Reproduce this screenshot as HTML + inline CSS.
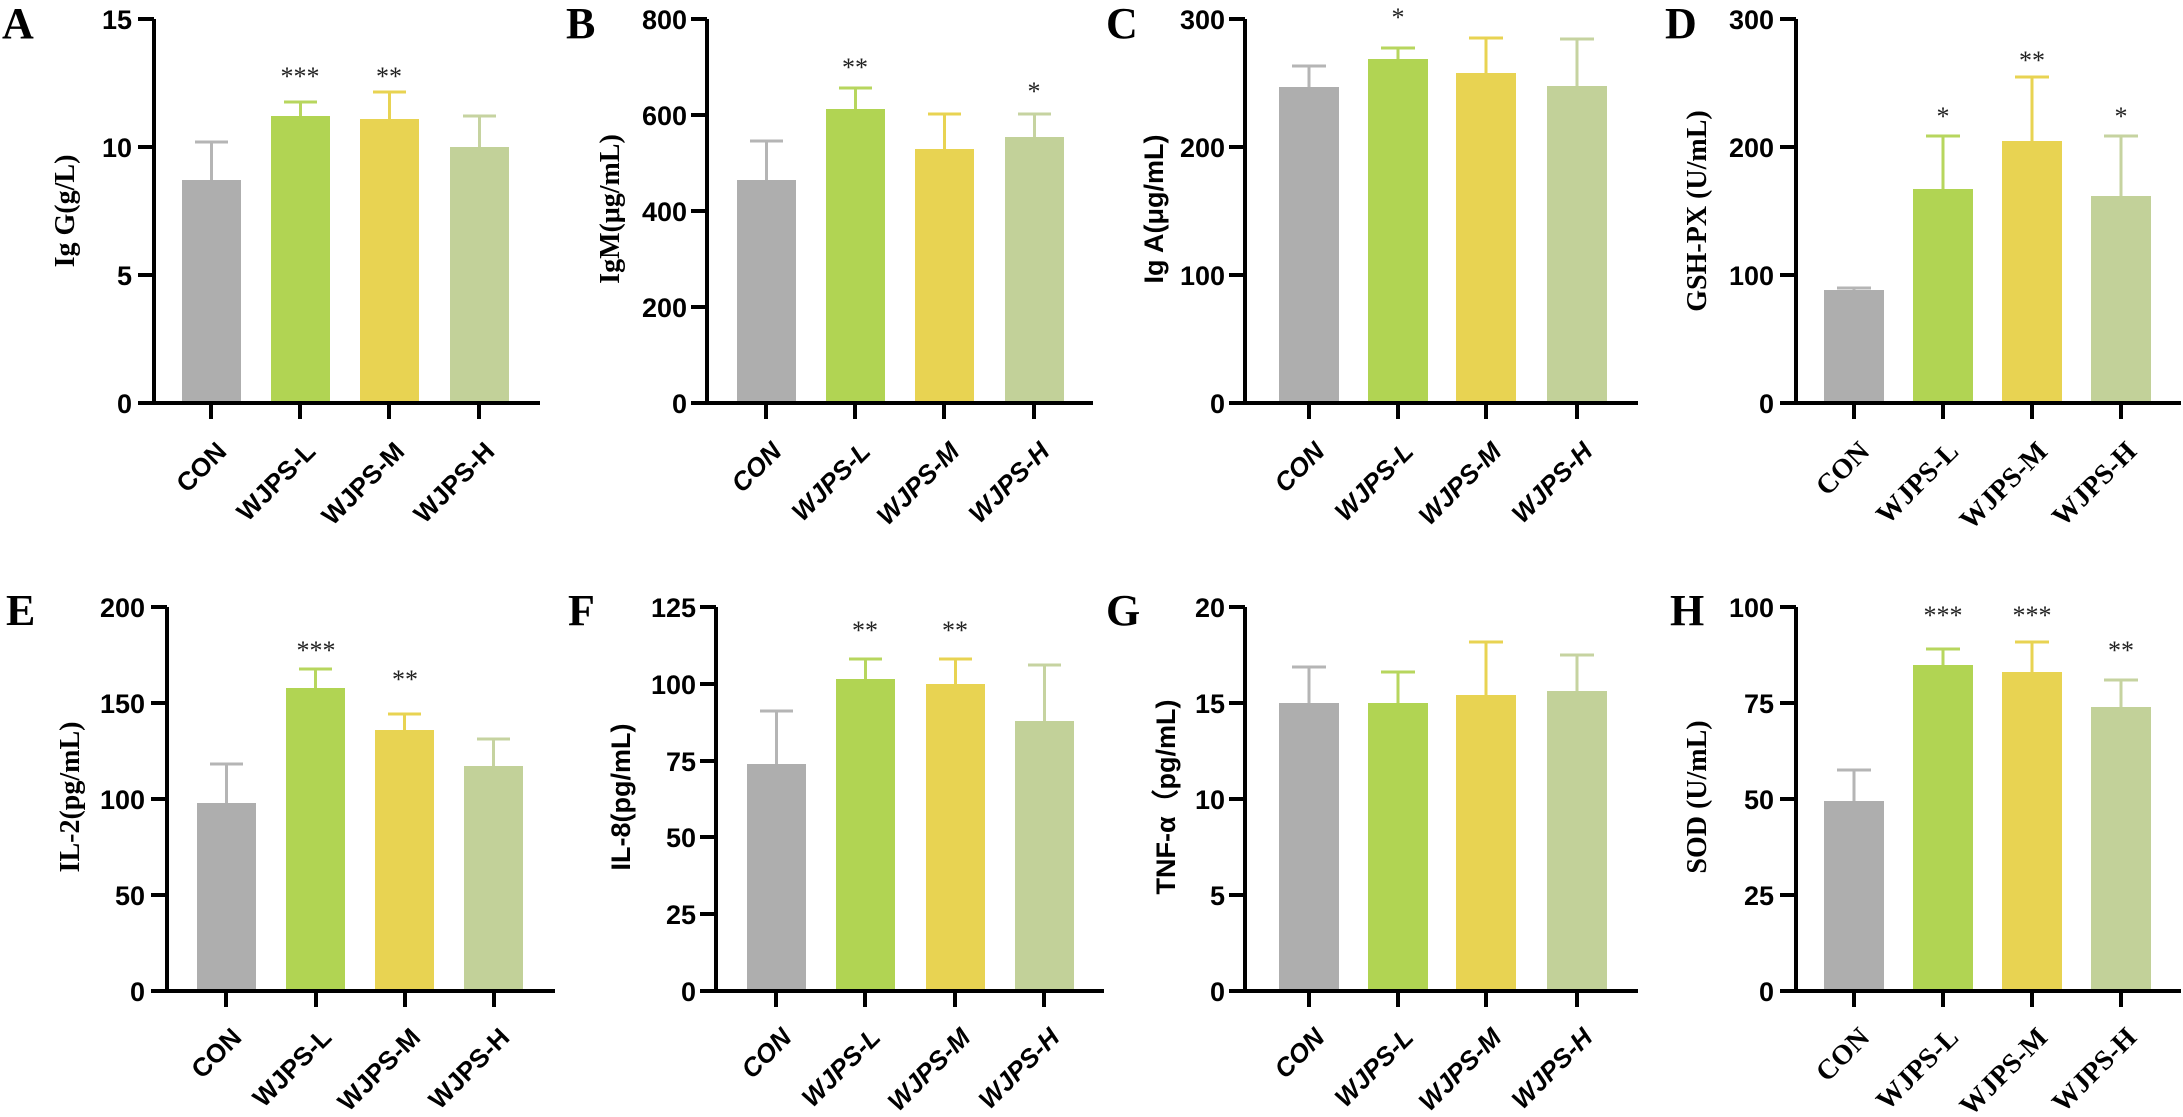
<!DOCTYPE html>
<html><head><meta charset="utf-8"><style>
html,body{margin:0;padding:0;background:#fff;}
svg{display:block;}
.t{font-family:"Liberation Sans",sans-serif;font-weight:bold;font-size:27px;fill:#000;}
.tn{font-family:"Liberation Sans",sans-serif;font-weight:bold;font-size:27px;fill:#000;}
.ts{font-family:"Liberation Serif",serif;font-weight:bold;font-size:28px;fill:#000;}
.xl{font-family:"Liberation Sans",sans-serif;font-weight:bold;font-size:26px;fill:#000;}
.xi{font-family:"Liberation Sans",sans-serif;font-weight:bold;font-style:italic;font-size:26px;fill:#000;}
.xs{font-family:"Liberation Serif",serif;font-weight:bold;font-size:28px;fill:#000;}
.st{font-family:"Liberation Serif",serif;font-size:26px;fill:#222;}
.L{font-family:"Liberation Serif",serif;font-weight:bold;font-size:44px;fill:#000;}
.ax{stroke:#000;stroke-width:4;fill:none;}
</style></head><body>
<svg width="2183" height="1117" viewBox="0 0 2183 1117" xmlns="http://www.w3.org/2000/svg">
<rect width="2183" height="1117" fill="#fff"/>

<text class="L" x="2" y="38">A</text>
<text class="L" x="566" y="38">B</text>
<text class="L" x="1106" y="38">C</text>
<text class="L" x="1665" y="38">D</text>
<text class="L" x="6" y="625">E</text>
<text class="L" x="568" y="625">F</text>
<text class="L" x="1106" y="625">G</text>
<text class="L" x="1670" y="625">H</text>

<!-- ===== A ===== -->
<g transform="translate(154,403)">
<rect x="28" y="-223" width="59" height="223" fill="#aeaeae"/>
<rect x="117" y="-287" width="59" height="287" fill="#b1d453"/>
<rect x="206" y="-284" width="59" height="284" fill="#e8d352"/>
<rect x="296" y="-256" width="59" height="256" fill="#c2d199"/>
<g stroke-width="3">
<path d="M57.5,-223V-261M41,-261H74" stroke="#b5b5b5"/>
<path d="M146.5,-287V-301M130,-301H163" stroke="#b7d65e"/>
<path d="M235.5,-284V-311M219,-311H252" stroke="#e8d352"/>
<path d="M325.5,-256V-287M309,-287H342" stroke="#c6d3a0"/>
</g>
<path class="ax" d="M0,-384V0M-16,0H386M-16,-384H0M-16,-256H0M-16,-128H0M57,0V16M146,0V16M235,0V16M325,0V16"/>
<g class="t" text-anchor="end"><text x="-22" y="10">0</text><text x="-22" y="-118">5</text><text x="-22" y="-246">10</text><text x="-22" y="-374">15</text></g>
<g class="st" text-anchor="middle"><text x="146" y="-318">***</text><text x="235" y="-318">**</text></g>
<text class="ts" transform="translate(-80,-192) rotate(-90)" text-anchor="middle">Ig G(g/L)</text>
<g class="xl" text-anchor="end">
<text transform="translate(74,50) rotate(-45)">CON</text>
<text transform="translate(163,50) rotate(-45)">WJPS-L</text>
<text transform="translate(252,50) rotate(-45)">WJPS-M</text>
<text transform="translate(342,50) rotate(-45)">WJPS-H</text>
</g>
</g>

<!-- ===== B ===== -->
<g transform="translate(707,403)">
<rect x="30" y="-223" width="59" height="223" fill="#aeaeae"/>
<rect x="119" y="-294" width="59" height="294" fill="#b1d453"/>
<rect x="208" y="-254" width="59" height="254" fill="#e8d352"/>
<rect x="298" y="-266" width="59" height="266" fill="#c2d199"/>
<g stroke-width="3">
<path d="M59.5,-223V-262M43,-262H76" stroke="#b5b5b5"/>
<path d="M148.5,-294V-315M132,-315H165" stroke="#b7d65e"/>
<path d="M237.5,-254V-289M221,-289H254" stroke="#e8d352"/>
<path d="M327.5,-266V-289M311,-289H344" stroke="#c6d3a0"/>
</g>
<path class="ax" d="M0,-384V0M-16,0H386M-16,-384H0M-16,-288H0M-16,-192H0M-16,-96H0M59,0V16M148,0V16M237,0V16M327,0V16"/>
<g class="t" text-anchor="end"><text x="-20" y="10">0</text><text x="-20" y="-86">200</text><text x="-20" y="-182">400</text><text x="-20" y="-278">600</text><text x="-20" y="-374">800</text></g>
<g class="st" text-anchor="middle"><text x="148" y="-327">**</text><text x="327" y="-303">*</text></g>
<text class="ts" transform="translate(-88,-194) rotate(-90)" text-anchor="middle">IgM(μg/mL)</text>
<g class="xi" text-anchor="end">
<text transform="translate(76,50) rotate(-45)">CON</text>
<text transform="translate(165,50) rotate(-45)">WJPS-L</text>
<text transform="translate(254,50) rotate(-45)">WJPS-M</text>
<text transform="translate(344,50) rotate(-45)">WJPS-H</text>
</g>
</g>

<!-- ===== C ===== -->
<g transform="translate(1245,403)">
<rect x="34" y="-316" width="60" height="316" fill="#aeaeae"/>
<rect x="123" y="-344" width="60" height="344" fill="#b1d453"/>
<rect x="211" y="-330" width="60" height="330" fill="#e8d352"/>
<rect x="302" y="-317" width="60" height="317" fill="#c2d199"/>
<g stroke-width="3">
<path d="M64,-316V-337M47,-337H81" stroke="#b5b5b5"/>
<path d="M153,-344V-355M136,-355H170" stroke="#b7d65e"/>
<path d="M241,-330V-365M224,-365H258" stroke="#e8d352"/>
<path d="M332,-317V-364M315,-364H349" stroke="#c6d3a0"/>
</g>
<path class="ax" d="M0,-384V0M-16,0H393M-16,-384H0M-16,-256H0M-16,-128H0M64,0V16M153,0V16M241,0V16M332,0V16"/>
<g class="t" text-anchor="end"><text x="-20" y="10">0</text><text x="-20" y="-118">100</text><text x="-20" y="-246">200</text><text x="-20" y="-374">300</text></g>
<g class="st" text-anchor="middle"><text x="153" y="-377">*</text></g>
<text class="tn" transform="translate(-82,-194) rotate(-90)" text-anchor="middle">Ig A(μg/mL)</text>
<g class="xi" text-anchor="end">
<text transform="translate(81,50) rotate(-45)">CON</text>
<text transform="translate(170,50) rotate(-45)">WJPS-L</text>
<text transform="translate(258,50) rotate(-45)">WJPS-M</text>
<text transform="translate(349,50) rotate(-45)">WJPS-H</text>
</g>
</g>

<!-- ===== D ===== -->
<g transform="translate(1796,403)">
<rect x="28" y="-113" width="60" height="113" fill="#aeaeae"/>
<rect x="117" y="-214" width="60" height="214" fill="#b1d453"/>
<rect x="206" y="-262" width="60" height="262" fill="#e8d352"/>
<rect x="295" y="-207" width="60" height="207" fill="#c2d199"/>
<g stroke-width="3">
<path d="M58,-113V-115M41,-115H75" stroke="#b5b5b5"/>
<path d="M147,-214V-267M130,-267H164" stroke="#b7d65e"/>
<path d="M236,-262V-326M219,-326H253" stroke="#e8d352"/>
<path d="M325,-207V-267M308,-267H342" stroke="#c6d3a0"/>
</g>
<path class="ax" d="M0,-384V0M-16,0H385M-16,-384H0M-16,-256H0M-16,-128H0M58,0V16M147,0V16M236,0V16M325,0V16"/>
<g class="t" text-anchor="end"><text x="-22" y="10">0</text><text x="-22" y="-118">100</text><text x="-22" y="-246">200</text><text x="-22" y="-374">300</text></g>
<g class="st" text-anchor="middle"><text x="147" y="-278">*</text><text x="236" y="-334">**</text><text x="325" y="-278">*</text></g>
<text class="ts" transform="translate(-90,-192) rotate(-90)" text-anchor="middle">GSH-PX (U/mL)</text>
<g class="xs" text-anchor="end">
<text transform="translate(75,50) rotate(-45)">CON</text>
<text transform="translate(164,50) rotate(-45)">WJPS-L</text>
<text transform="translate(253,50) rotate(-45)">WJPS-M</text>
<text transform="translate(342,50) rotate(-45)">WJPS-H</text>
</g>
</g>

<!-- ===== E ===== -->
<g transform="translate(167,991)">
<rect x="30" y="-188" width="59" height="188" fill="#aeaeae"/>
<rect x="119" y="-303" width="59" height="303" fill="#b1d453"/>
<rect x="208" y="-261" width="59" height="261" fill="#e8d352"/>
<rect x="297" y="-225" width="59" height="225" fill="#c2d199"/>
<g stroke-width="3">
<path d="M59.5,-188V-227M43,-227H76" stroke="#b5b5b5"/>
<path d="M148.5,-303V-322M132,-322H165" stroke="#b7d65e"/>
<path d="M237.5,-261V-277M221,-277H254" stroke="#e8d352"/>
<path d="M326.5,-225V-252M310,-252H343" stroke="#c6d3a0"/>
</g>
<path class="ax" d="M0,-384V0M-16,0H388M-16,-384H0M-16,-288H0M-16,-192H0M-16,-96H0M59,0V16M149,0V16M238,0V16M327,0V16"/>
<g class="t" text-anchor="end"><text x="-22" y="10">0</text><text x="-22" y="-86">50</text><text x="-22" y="-182">100</text><text x="-22" y="-278">150</text><text x="-22" y="-374">200</text></g>
<g class="st" text-anchor="middle"><text x="149" y="-332">***</text><text x="238" y="-303">**</text></g>
<text class="ts" transform="translate(-88,-194) rotate(-90)" text-anchor="middle">IL-2(pg/mL)</text>
<g class="xl" text-anchor="end">
<text transform="translate(76,48) rotate(-45)">CON</text>
<text transform="translate(166,48) rotate(-45)">WJPS-L</text>
<text transform="translate(255,48) rotate(-45)">WJPS-M</text>
<text transform="translate(344,48) rotate(-45)">WJPS-H</text>
</g>
</g>

<!-- ===== F ===== -->
<g transform="translate(716,991)">
<rect x="31" y="-227" width="59" height="227" fill="#aeaeae"/>
<rect x="120" y="-312" width="59" height="312" fill="#b1d453"/>
<rect x="210" y="-307" width="59" height="307" fill="#e8d352"/>
<rect x="299" y="-270" width="59" height="270" fill="#c2d199"/>
<g stroke-width="3">
<path d="M60.5,-227V-280M44,-280H77" stroke="#b5b5b5"/>
<path d="M149.5,-312V-332M133,-332H166" stroke="#b7d65e"/>
<path d="M239.5,-307V-332M223,-332H256" stroke="#e8d352"/>
<path d="M328.5,-270V-326M312,-326H345" stroke="#c6d3a0"/>
</g>
<path class="ax" d="M0,-384V0M-16,0H388M-16,-384H0M-16,-307H0M-16,-230H0M-16,-154H0M-16,-77H0M60,0V16M149,0V16M239,0V16M328,0V16"/>
<g class="t" text-anchor="end"><text x="-20" y="10">0</text><text x="-20" y="-67">25</text><text x="-20" y="-144">50</text><text x="-20" y="-220">75</text><text x="-20" y="-297">100</text><text x="-20" y="-374">125</text></g>
<g class="st" text-anchor="middle"><text x="149" y="-352">**</text><text x="239" y="-352">**</text></g>
<text class="tn" transform="translate(-86,-194) rotate(-90)" text-anchor="middle">IL-8(pg/mL)</text>
<g class="xi" text-anchor="end">
<text transform="translate(77,48) rotate(-45)">CON</text>
<text transform="translate(166,48) rotate(-45)">WJPS-L</text>
<text transform="translate(256,48) rotate(-45)">WJPS-M</text>
<text transform="translate(345,48) rotate(-45)">WJPS-H</text>
</g>
</g>

<!-- ===== G ===== -->
<g transform="translate(1245,991)">
<rect x="34" y="-288" width="60" height="288" fill="#aeaeae"/>
<rect x="123" y="-288" width="60" height="288" fill="#b1d453"/>
<rect x="211" y="-296" width="60" height="296" fill="#e8d352"/>
<rect x="302" y="-300" width="60" height="300" fill="#c2d199"/>
<g stroke-width="3">
<path d="M64,-288V-324M47,-324H81" stroke="#b5b5b5"/>
<path d="M153,-288V-319M136,-319H170" stroke="#b7d65e"/>
<path d="M241,-296V-349M224,-349H258" stroke="#e8d352"/>
<path d="M332,-300V-336M315,-336H349" stroke="#c6d3a0"/>
</g>
<path class="ax" d="M0,-384V0M-16,0H393M-16,-384H0M-16,-288H0M-16,-192H0M-16,-96H0M64,0V16M153,0V16M241,0V16M332,0V16"/>
<g class="t" text-anchor="end"><text x="-20" y="10">0</text><text x="-20" y="-86">5</text><text x="-20" y="-182">10</text><text x="-20" y="-278">15</text><text x="-20" y="-374">20</text></g>
<text class="tn" transform="translate(-70,-194) rotate(-90)" text-anchor="middle">TNF-α（pg/mL)</text>
<g class="xi" text-anchor="end">
<text transform="translate(81,48) rotate(-45)">CON</text>
<text transform="translate(170,48) rotate(-45)">WJPS-L</text>
<text transform="translate(258,48) rotate(-45)">WJPS-M</text>
<text transform="translate(349,48) rotate(-45)">WJPS-H</text>
</g>
</g>

<!-- ===== H ===== -->
<g transform="translate(1796,991)">
<rect x="28" y="-190" width="60" height="190" fill="#aeaeae"/>
<rect x="117" y="-326" width="60" height="326" fill="#b1d453"/>
<rect x="206" y="-319" width="60" height="319" fill="#e8d352"/>
<rect x="295" y="-284" width="60" height="284" fill="#c2d199"/>
<g stroke-width="3">
<path d="M58,-190V-221M41,-221H75" stroke="#b5b5b5"/>
<path d="M147,-326V-342M130,-342H164" stroke="#b7d65e"/>
<path d="M236,-319V-349M219,-349H253" stroke="#e8d352"/>
<path d="M325,-284V-311M308,-311H342" stroke="#c6d3a0"/>
</g>
<path class="ax" d="M0,-384V0M-16,0H385M-16,-384H0M-16,-288H0M-16,-192H0M-16,-96H0M58,0V16M147,0V16M236,0V16M325,0V16"/>
<g class="t" text-anchor="end"><text x="-22" y="10">0</text><text x="-22" y="-86">25</text><text x="-22" y="-182">50</text><text x="-22" y="-278">75</text><text x="-22" y="-374">100</text></g>
<g class="st" text-anchor="middle"><text x="147" y="-367">***</text><text x="236" y="-367">***</text><text x="325" y="-332">**</text></g>
<text class="ts" transform="translate(-90,-194) rotate(-90)" text-anchor="middle">SOD (U/mL)</text>
<g class="xs" text-anchor="end">
<text transform="translate(75,48) rotate(-45)">CON</text>
<text transform="translate(164,48) rotate(-45)">WJPS-L</text>
<text transform="translate(253,48) rotate(-45)">WJPS-M</text>
<text transform="translate(342,48) rotate(-45)">WJPS-H</text>
</g>
</g>
</svg>
</body></html>
